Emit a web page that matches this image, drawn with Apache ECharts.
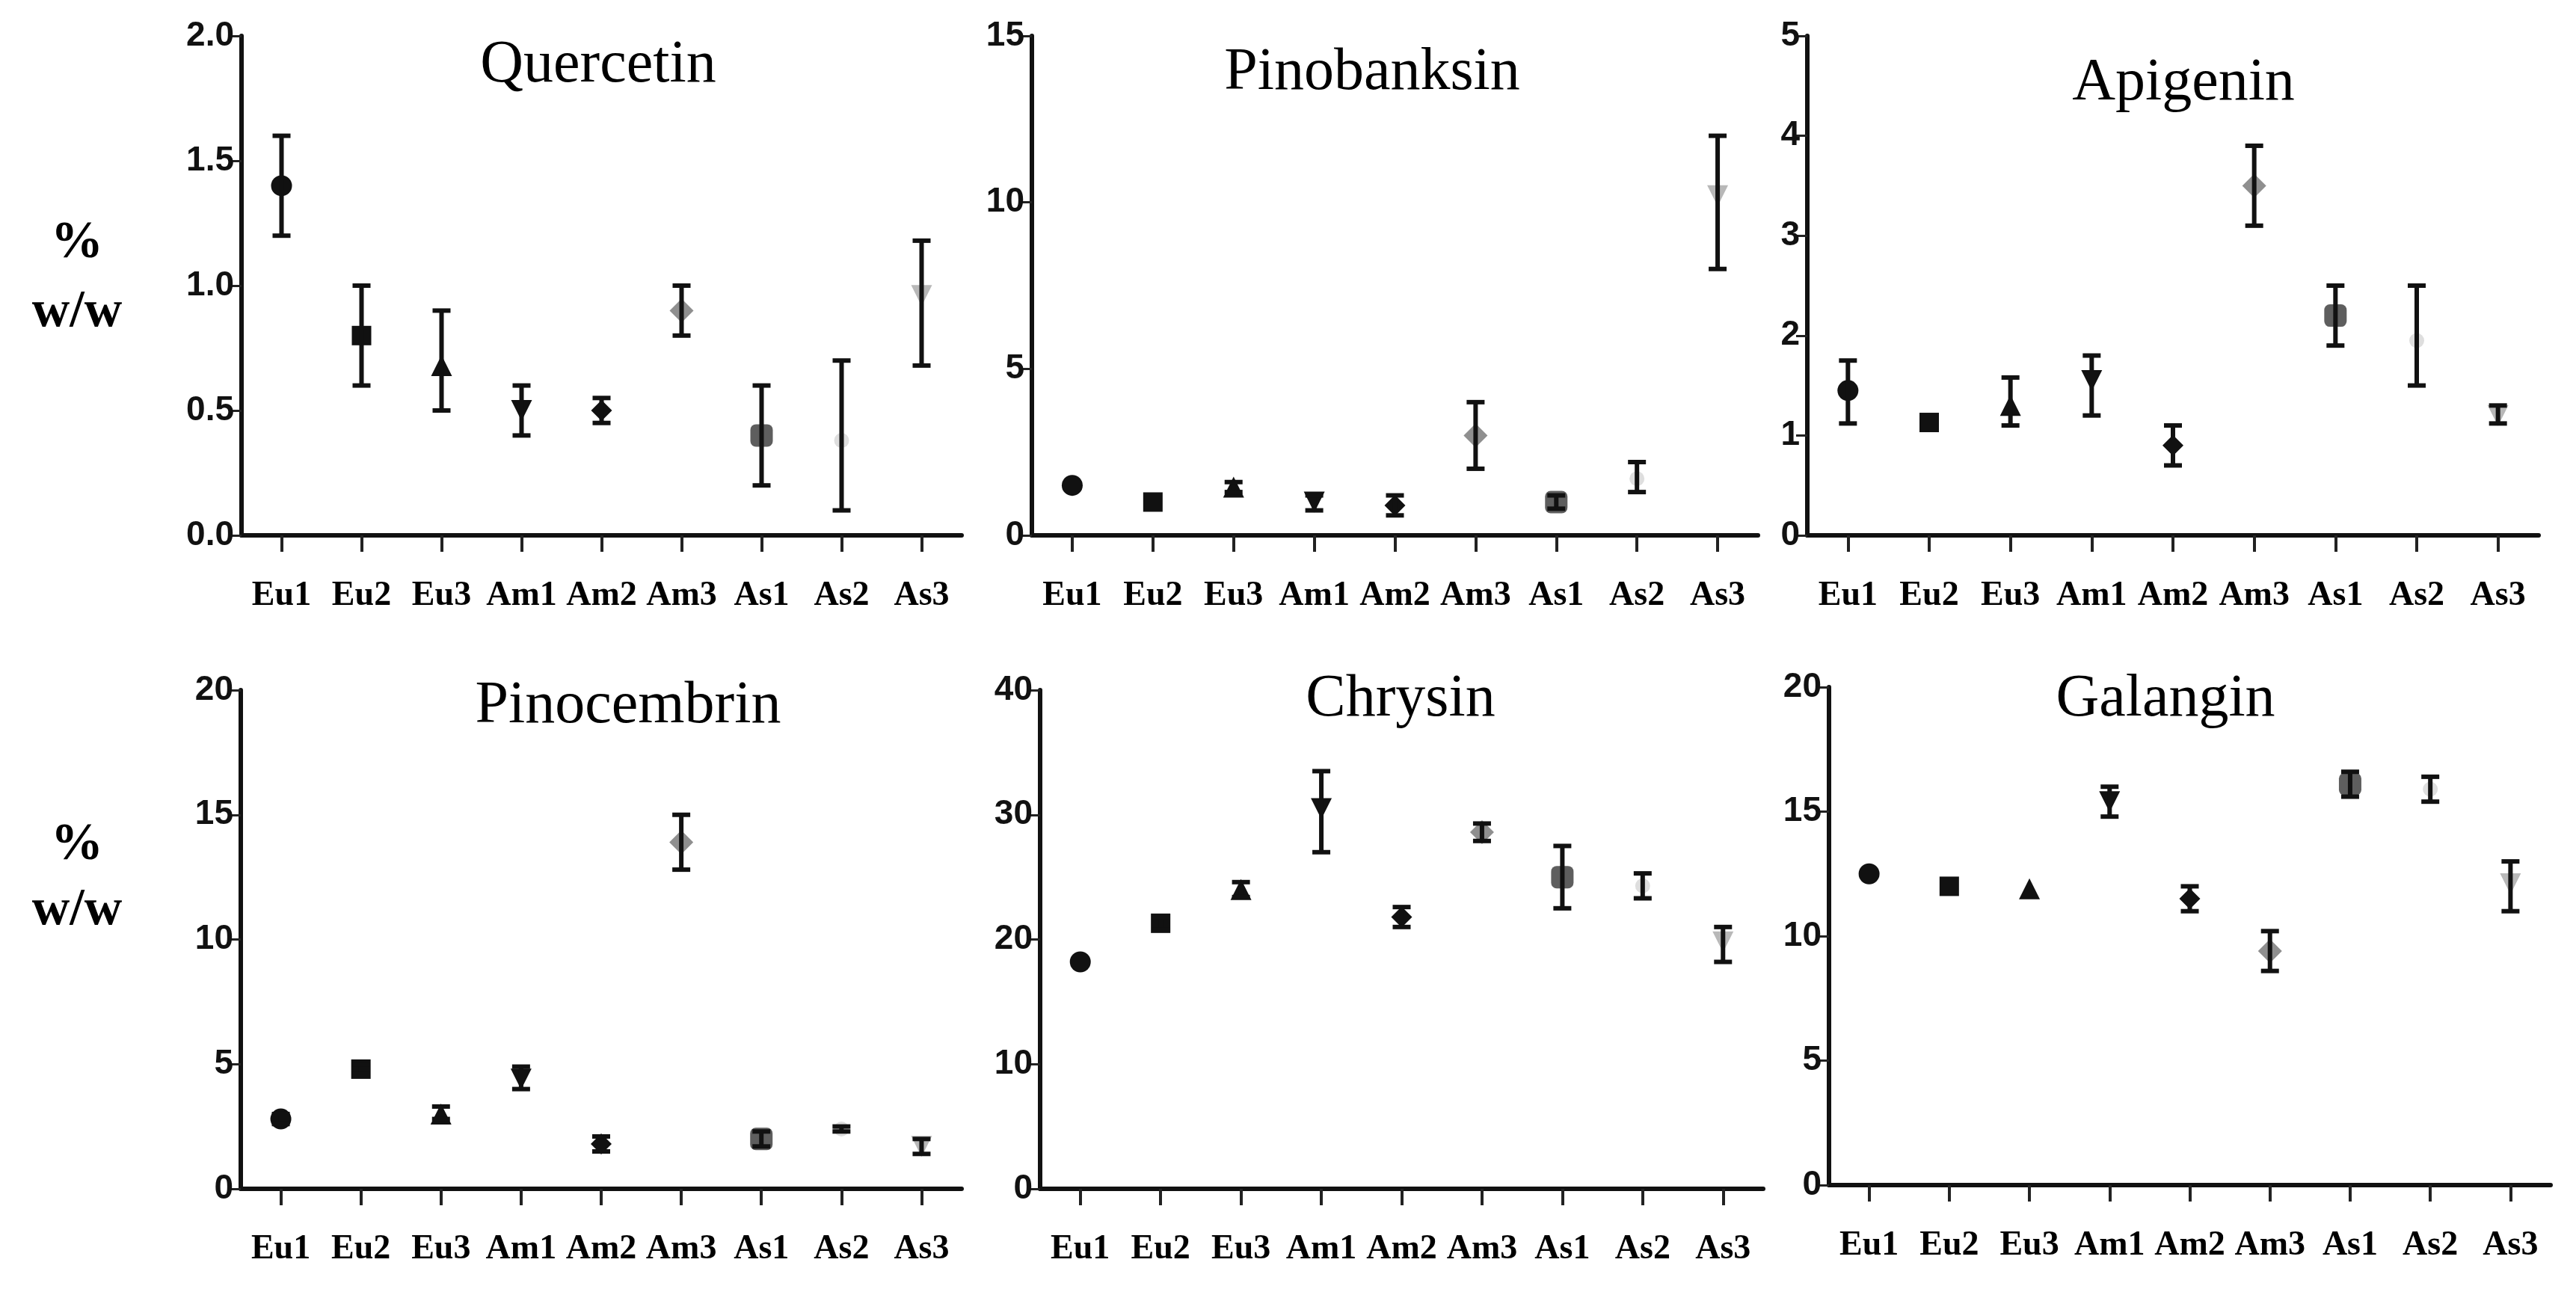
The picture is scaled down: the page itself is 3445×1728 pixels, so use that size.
<!DOCTYPE html>
<html>
<head>
<meta charset="utf-8">
<title>Flavonoid content</title>
<script src="https://cdn.jsdelivr.net/npm/echarts/dist/echarts.min.js"></script>
<style>
  html, body { margin: 0; padding: 0; background: #fff; }
  #chart { width: 3445px; height: 1728px; }
</style>
</head>
<body>
<div id="chart"></div>
<script>
// sample groups
var categories = ['Eu1', 'Eu2', 'Eu3', 'Am1', 'Am2', 'Am3', 'As1', 'As2', 'As3'];

// % w/w, mean and error bar ends
var quercetinMean = [1.40, 0.80, 0.68, 0.50, 0.50, 0.90, 0.40, 0.38, 0.96];
var quercetinLow  = [1.20, 0.60, 0.50, 0.40, 0.45, 0.80, 0.20, 0.10, 0.68];
var quercetinHigh = [1.60, 1.00, 0.90, 0.60, 0.55, 1.00, 0.60, 0.70, 1.18];

var pinobanksinMean = [1.5, 1.0, 1.45, 1.0, 0.9, 3.0, 1.0, 1.7, 10.2];
var pinobanksinLow  = [1.5, 1.0, 1.30, 0.75, 0.6, 2.0, 0.8, 1.3, 8.0];
var pinobanksinHigh = [1.5, 1.0, 1.60, 1.2, 1.2, 4.0, 1.2, 2.2, 12.0];

var apigeninMean = [1.45, 1.13, 1.30, 1.55, 0.90, 3.50, 2.20, 1.95, 1.20];
var apigeninLow  = [1.12, 1.13, 1.10, 1.20, 0.70, 3.10, 1.90, 1.50, 1.12];
var apigeninHigh = [1.75, 1.13, 1.58, 1.80, 1.10, 3.90, 2.50, 2.50, 1.30];

var pinocembrinMean = [2.8, 4.8, 3.0, 4.4, 1.8, 13.9, 2.0, 2.4, 1.7];
var pinocembrinLow  = [2.6, 4.6, 2.8, 4.0, 1.5, 12.8, 1.7, 2.3, 1.4];
var pinocembrinHigh = [3.0, 5.0, 3.3, 4.9, 2.1, 15.0, 2.3, 2.5, 2.0];

var chrysinMean = [18.2, 21.3, 24.0, 30.5, 21.8, 28.6, 25.0, 24.3, 19.8];
var chrysinLow  = [18.2, 20.8, 23.4, 27.0, 21.0, 27.9, 22.5, 23.3, 18.2];
var chrysinHigh = [18.2, 21.8, 24.6, 33.5, 22.6, 29.3, 27.5, 25.3, 21.0];

var galanginMean = [12.5, 12.0, 11.9, 15.4, 11.5, 9.4, 16.1, 15.9, 12.1];
var galanginLow  = [12.5, 12.0, 11.9, 14.8, 11.0, 8.6, 15.6, 15.4, 11.0];
var galanginHigh = [12.5, 12.0, 11.9, 16.0, 12.0, 10.2, 16.6, 16.4, 13.0];

// y axis ranges: [max, interval, decimals]
var quercetinAxis = [2, 0.5, 1];
var pinobanksinAxis = [15, 5, 0];
var apigeninAxis = [5, 1, 0];
var pinocembrinAxis = [20, 5, 0];
var chrysinAxis = [40, 10, 0];
var galanginAxis = [20, 5, 0];

// marker look per group
var markerShape  = ['circle', 'rect', 'triangle', 'triangle', 'diamond', 'diamond', 'roundRect', 'circle', 'triangle'];
var markerRotate = [0, 0, 0, 180, 0, 0, 0, 0, 180];
var markerColor  = ['#111', '#111', '#111', '#111', '#111', '#8f8f8f', '#5e5e5e', '#dedede', '#b8b8b8'];
var markerSize   = [28, 26, 28, 28, 28, 32, 30, 20, 28];

var panels = [
    {name: 'Quercetin',   mean: quercetinMean,   low: quercetinLow,   high: quercetinHigh,   axis: quercetinAxis,
     grid: {left: 323, top: 48, width: 963, height: 668},  title: [800, 88]},
    {name: 'Pinobanksin', mean: pinobanksinMean, low: pinobanksinLow, high: pinobanksinHigh, axis: pinobanksinAxis,
     grid: {left: 1380, top: 48, width: 971, height: 668}, title: [1835, 98]},
    {name: 'Apigenin',    mean: apigeninMean,    low: apigeninLow,    high: apigeninHigh,    axis: apigeninAxis,
     grid: {left: 2417, top: 48, width: 978, height: 668}, title: [2920, 112]},
    {name: 'Pinocembrin', mean: pinocembrinMean, low: pinocembrinLow, high: pinocembrinHigh, axis: pinocembrinAxis,
     grid: {left: 322, top: 923, width: 964, height: 667}, title: [840, 945]},
    {name: 'Chrysin',     mean: chrysinMean,     low: chrysinLow,     high: chrysinHigh,     axis: chrysinAxis,
     grid: {left: 1391, top: 923, width: 967, height: 667}, title: [1873, 936]},
    {name: 'Galangin',    mean: galanginMean,    low: galanginLow,    high: galanginHigh,    axis: galanginAxis,
     grid: {left: 2446, top: 919, width: 965, height: 666}, title: [2896, 936]}
];

var myChart = echarts.init(document.getElementById('chart'), null, {renderer: 'canvas'});

var grids = [], xAxes = [], yAxes = [], series = [], graphics = [];

panels.forEach(function (p, k) {
    grids.push(p.grid);
    xAxes.push({
        gridIndex: k,
        type: 'category',
        data: categories,
        boundaryGap: true,
        axisLine: {show: true, lineStyle: {color: '#111', width: 6}},
        axisTick: {show: true, alignWithLabel: true, interval: 0, length: 22, lineStyle: {color: '#222', width: 4}},
        axisLabel: {
            interval: 0,
            hideOverlap: false,
            margin: 58,
            color: '#000',
            fontFamily: '"Liberation Serif", "DejaVu Serif", serif',
            fontWeight: 'bold',
            fontSize: 46
        },
        splitLine: {show: false}
    });
    yAxes.push({
        gridIndex: k,
        type: 'value',
        min: 0,
        max: p.axis[0],
        interval: p.axis[1],
        axisLine: {show: true, lineStyle: {color: '#111', width: 6}},
        axisTick: {show: true, length: 15, lineStyle: {color: '#222', width: 3}},
        axisLabel: {
            margin: 10,
            color: '#111',
            fontFamily: '"Liberation Sans", Arial, sans-serif',
            fontWeight: 'bold',
            fontSize: 46,
            formatter: (function (d) {
                return function (v) { return v.toFixed(d); };
            })(p.axis[2])
        },
        splitLine: {show: false}
    });

    // points
    series.push({
        name: p.name,
        type: 'scatter',
        xAxisIndex: k,
        yAxisIndex: k,
        z: 2,
        data: p.mean.map(function (v, i) {
            return {
                value: [i, v],
                symbol: markerShape[i],
                symbolRotate: markerRotate[i],
                symbolSize: markerSize[i],
                itemStyle: {color: markerColor[i], opacity: 1}
            };
        })
    });

    // error bars
    series.push({
        name: p.name + ' SD',
        type: 'custom',
        xAxisIndex: k,
        yAxisIndex: k,
        z: 3,
        encode: {x: 0, y: [1, 2]},
        data: p.low.map(function (lo, i) { return [i, lo, p.high[i]]; }),
        renderItem: function (params, api) {
            var lo = api.value(1), hi = api.value(2);
            if (hi - lo <= 0) return;
            var a = api.coord([api.value(0), hi]);
            var b = api.coord([api.value(0), lo]);
            var hw = 12;
            var st = {stroke: '#111', lineWidth: 6};
            return {
                type: 'group',
                children: [
                    {type: 'line', shape: {x1: a[0], y1: a[1], x2: b[0], y2: b[1]}, style: st},
                    {type: 'line', shape: {x1: a[0] - hw, y1: a[1], x2: a[0] + hw, y2: a[1]}, style: st},
                    {type: 'line', shape: {x1: b[0] - hw, y1: b[1], x2: b[0] + hw, y2: b[1]}, style: st}
                ]
            };
        }
    });

    graphics.push({
        type: 'text',
        x: p.title[0],
        y: p.title[1],
        style: {
            text: p.name,
            fill: '#000',
            font: '80px "Liberation Serif", "DejaVu Serif", serif',
            textAlign: 'center',
            textVerticalAlign: 'middle'
        }
    });
});

// y axis unit on the left of each row
[[326, 418], [1131, 1218]].forEach(function (ys) {
    graphics.push({
        type: 'text', x: 103, y: ys[0],
        style: {text: '%', fill: '#000', font: 'bold 70px "Liberation Serif", serif',
                textAlign: 'center', textVerticalAlign: 'middle'}
    });
    graphics.push({
        type: 'text', x: 103, y: ys[1],
        style: {text: 'w/w', fill: '#000', font: 'bold 70px "Liberation Serif", serif',
                textAlign: 'center', textVerticalAlign: 'middle'}
    });
});

var option = {
    backgroundColor: '#fff',
    animation: false,
    grid: grids,
    xAxis: xAxes,
    yAxis: yAxes,
    series: series,
    graphic: graphics
};

myChart.setOption(option);
</script>
</body>
</html>
